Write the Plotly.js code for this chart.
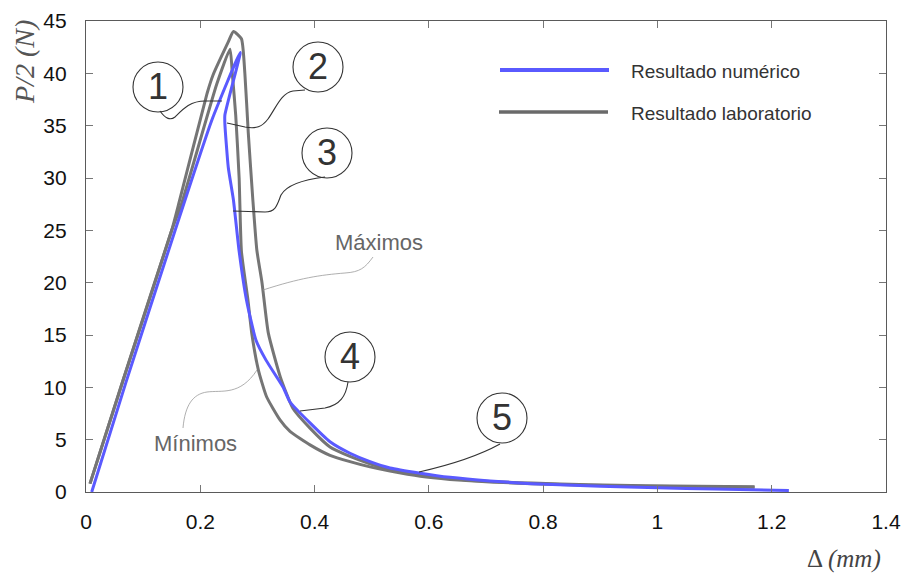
<!DOCTYPE html>
<html>
<head>
<meta charset="utf-8">
<script src="https://cdn.plot.ly/plotly-3.0.1.min.js"></script>
<style>html,body{margin:0;padding:0;background:#fff;}#chart{width:910px;height:576px;}</style>
</head>
<body>
<div id="chart"></div>
<script>
// ---- data ----
const numX = [0.01, 0.07, 0.156, 0.22, 0.27, 0.243, 0.243, 0.249, 0.258, 0.268, 0.281, 0.2975, 0.315, 0.345, 0.357, 0.392, 0.427, 0.462, 0.497, 0.532, 0.585, 0.637, 0.707, 0.78, 0.9, 1.0, 1.1, 1.23];
const numY = [0, 10.5, 25, 35.5, 42, 36, 35.2, 31, 27.9, 23, 18.3, 14.5, 12.6, 10.0, 8.6, 6.6, 4.8, 3.7, 2.9, 2.3, 1.8, 1.4, 1.05, 0.8, 0.55, 0.4, 0.28, 0.15];

const maxX = [0.007, 0.065, 0.15, 0.164, 0.212, 0.222, 0.249, 0.258, 0.272, 0.278, 0.284, 0.292, 0.299, 0.308, 0.319, 0.34, 0.362, 0.392, 0.427, 0.462, 0.497, 0.532, 0.585, 0.637, 0.707, 0.78, 0.88, 0.98, 1.07, 1.17];
const maxY = [0.8, 10.7, 25, 27.9, 38.1, 39.8, 43, 44, 43.3, 40, 34.3, 27.9, 23.1, 20, 15.2, 11, 8.0, 6.1, 4.3, 3.4, 2.7, 2.1, 1.6, 1.3, 1.0, 0.85, 0.7, 0.6, 0.55, 0.5];

const minX = [0.007, 0.065, 0.15, 0.167, 0.229, 0.252, 0.256, 0.262, 0.268, 0.272, 0.2835, 0.29, 0.3017, 0.316, 0.3395, 0.357, 0.392, 0.427, 0.462, 0.497, 0.532, 0.585, 0.637, 0.707, 0.78, 0.88, 0.98, 1.07, 1.17];
const minY = [0.8, 10.7, 25, 27.5, 39, 42.3, 40, 36, 30, 23, 18.3, 15.2, 11.65, 9.1, 6.9, 5.8, 4.5, 3.5, 2.9, 2.4, 2.0, 1.5, 1.2, 0.95, 0.8, 0.65, 0.55, 0.5, 0.45];

const xTicks = [0, 0.2, 0.4, 0.6, 0.8, 1, 1.2, 1.4];
const yTicks = [0, 5, 10, 15, 20, 25, 30, 35, 40, 45];
const seriesNames = ['Resultado numérico', 'Resultado laboratorio'];
const calloutLabels = ['1', '2', '3', '4', '5'];
const curveLabels = ['Máximos', 'Mínimos'];

// ---- geometry helpers (pixel -> data) ----
const L = 86, R = 886, T = 21, B = 492, XMAX = 1.4, YMAX = 45;
function xd(px) { return (px - L) / (R - L) * XMAX; }
function yd(py) { return (B - py) / (B - T) * YMAX; }
function pth(segs) {
  return segs.map(s => {
    const c = s[0]; const v = s.slice(1); const out = [];
    for (let i = 0; i < v.length; i += 2) out.push(xd(v[i]).toFixed(5) + ',' + yd(v[i + 1]).toFixed(4));
    return c + out.join(' ');
  }).join(' ');
}

const BLUE = '#5a5aff', GRAY = '#757575', INK = '#333333';
const FONT = 'Liberation Sans, Arial, sans-serif';

const traces = [
  {x: maxX, y: maxY, type: 'scatter', mode: 'lines', name: seriesNames[1], line: {color: GRAY, width: 3, shape: 'spline', smoothing: 0.5}, showlegend: false},
  {x: minX, y: minY, type: 'scatter', mode: 'lines', name: seriesNames[1], line: {color: GRAY, width: 3, shape: 'spline', smoothing: 0.5}, showlegend: false},
  {x: numX, y: numY, type: 'scatter', mode: 'lines', name: seriesNames[0], line: {color: BLUE, width: 3, shape: 'spline', smoothing: 0.5}, showlegend: false}
];

const circles = [[158, 87], [318, 67], [327, 153], [350, 357], [502, 418]];
const shapes = [];
const annotations = [];
circles.forEach((c, i) => {
  shapes.push({type: 'circle', xref: 'x', yref: 'y', x0: xd(c[0] - 25), x1: xd(c[0] + 25), y0: yd(c[1] + 25), y1: yd(c[1] - 25), line: {color: INK, width: 1.1}});
  annotations.push({xref: 'x', yref: 'y', x: xd(c[0]), y: yd(c[1] - 1), text: calloutLabels[i], showarrow: false, font: {family: FONT, size: 36, color: INK}, xanchor: 'center', yanchor: 'middle'});
});
const callouts = [
  [['M', 160, 111], ['C', 165, 118, 170, 121, 175, 117], ['C', 183, 109, 190, 101, 205, 101], ['L', 222, 101]],
  [['M', 305, 90], ['L', 293, 91], ['C', 281, 93, 276, 108, 268, 119], ['C', 262, 127, 256, 129, 245, 127], ['L', 227, 123]],
  [['M', 325, 177], ['C', 300, 180, 286, 186, 281, 195], ['C', 277, 205, 276, 212, 265, 212], ['L', 233, 211]],
  [['M', 348, 382], ['C', 346, 396, 340, 405, 325, 408], ['L', 300, 411]],
  [['M', 500, 444], ['C', 480, 455, 450, 465, 419, 472]]
];
callouts.forEach(p => shapes.push({type: 'path', xref: 'x', yref: 'y', path: pth(p), line: {color: INK, width: 1.1}}));
// thin label leaders
shapes.push({type: 'path', xref: 'x', yref: 'y', path: pth([['M', 373, 257], ['C', 365, 268, 360, 272, 345, 273], ['C', 320, 275, 300, 278, 263, 290]]), line: {color: '#9a9a9a', width: 0.8}});
shapes.push({type: 'path', xref: 'x', yref: 'y', path: pth([['M', 183, 428], ['C', 185, 405, 193, 394, 207, 392], ['C', 222, 390, 240, 396, 257, 370]]), line: {color: '#9a9a9a', width: 0.8}});
annotations.push({xref: 'x', yref: 'y', x: xd(379), y: yd(242), text: curveLabels[0], showarrow: false, font: {family: FONT, size: 22, color: '#666'}});
annotations.push({xref: 'x', yref: 'y', x: xd(195), y: yd(443), text: curveLabels[1], showarrow: false, font: {family: FONT, size: 22, color: '#666'}});

// manual legend (long sample lines as in the reference)
shapes.push({type: 'line', xref: 'paper', yref: 'paper', x0: (500 - L) / 800, x1: (609 - L) / 800, y0: (B - 70) / 471, y1: (B - 70) / 471, line: {color: BLUE, width: 4}});
shapes.push({type: 'line', xref: 'paper', yref: 'paper', x0: (499 - L) / 800, x1: (608 - L) / 800, y0: (B - 112) / 471, y1: (B - 112) / 471, line: {color: '#6a6a6a', width: 3.5}});
annotations.push({xref: 'paper', yref: 'paper', x: (629 - L) / 800, y: (B - 72) / 471, text: seriesNames[0], showarrow: false, xanchor: 'left', yanchor: 'middle', font: {family: FONT, size: 19, color: INK}});
annotations.push({xref: 'paper', yref: 'paper', x: (629 - L) / 800, y: (B - 114) / 471, text: seriesNames[1], showarrow: false, xanchor: 'left', yanchor: 'middle', font: {family: FONT, size: 19, color: INK}});

// axis titles placed like the reference
annotations.push({xref: 'paper', yref: 'paper', x: (25 - L) / 800, y: (B - 62) / 471, text: '<i>P/2 (N)</i>', showarrow: false, textangle: -90, xanchor: 'center', yanchor: 'middle', font: {family: 'Liberation Serif, Times New Roman, serif', size: 28, color: '#555'}});
annotations.push({xref: 'paper', yref: 'paper', x: (844 - L) / 800, y: (B - 559) / 471, text: 'Δ <i>(mm)</i>', showarrow: false, xanchor: 'center', yanchor: 'middle', font: {family: 'Liberation Serif, Times New Roman, serif', size: 25, color: '#444'}});

const axisCommon = {showgrid: false, zeroline: false, showline: true, linecolor: '#5a5a5a', linewidth: 1.2, mirror: 'ticks', ticks: 'inside', ticklen: 7, tickcolor: '#777', tickwidth: 1, tickfont: {family: FONT, size: 21, color: '#111'}};

const layout = {
  width: 910, height: 576,
  margin: {l: L, r: 910 - R, t: T, b: 576 - B, pad: 0},
  paper_bgcolor: '#fff', plot_bgcolor: '#fff',
  showlegend: false,
  xaxis: Object.assign({}, axisCommon, {range: [0, XMAX], tickmode: 'array', tickvals: xTicks, ticktext: xTicks.map(String), ticklabelstandoff: 11}),
  yaxis: Object.assign({}, axisCommon, {range: [0, YMAX], tickmode: 'array', tickvals: yTicks, ticktext: yTicks.map(String), ticklabelstandoff: 14}),
  shapes: shapes,
  annotations: annotations
};

Plotly.newPlot('chart', traces, layout, {staticPlot: true, displayModeBar: false});
</script>
</body>
</html>
